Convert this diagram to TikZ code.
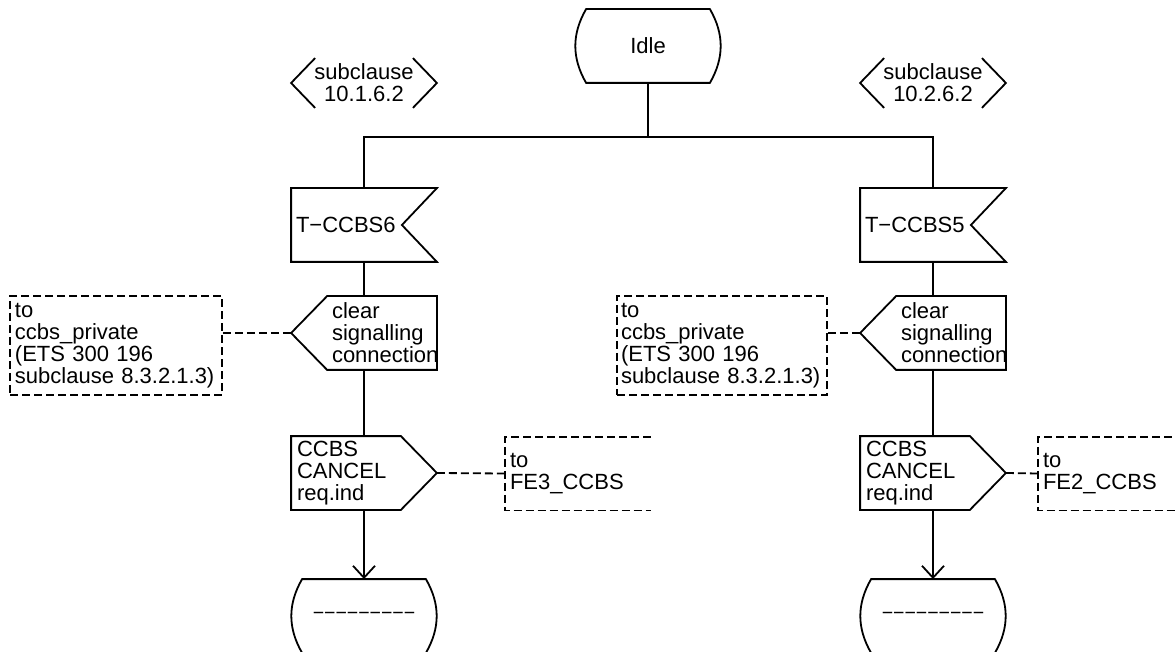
\documentclass[tikz,border=0pt]{standalone}
\usepackage{fontspec}
\setmainfont{Liberation Sans}
\usetikzlibrary{arrows.meta}
\hyphenpenalty=10000
\exhyphenpenalty=10000

\begin{document}
\begin{tikzpicture}[x=1pt, y=-1pt, line width=1.8pt,
		font=\fontsize{22}{22}\selectfont,
		symbol/.style={minimum width=144pt, minimum height=72pt, inner sep=0pt},
		leftsymbol/.style={symbol, text width=#1, align=left},
		dashline/.style={dash pattern=on 8pt off 4pt},
		flow/.style={-{Straight Barb[length=12pt,width=22pt]}}]
		
		\useasboundingbox (0,0) rectangle (1176,652);
		
		% --- start state ---
		\node[symbol] (idle) at (648,46) {Idle};
		\draw ([xshift=11pt]idle.north west) -- ([xshift=-11pt]idle.north east) to[bend left=30] ([xshift=-11pt]idle.south east) -- ([xshift=11pt]idle.south west) to[bend left=30] cycle;
		
		% --- references ---
		\node[symbol, minimum height=48pt, align=center] (refL) at (364,83) {subclause\\10.1.6.2};
		\draw ([xshift=24pt]refL.north west) -- (refL.west) -- ([xshift=24pt]refL.south west);
		\draw ([xshift=-24pt]refL.north east) -- (refL.east) -- ([xshift=-24pt]refL.south east);
		\node[symbol, minimum height=48pt, align=center] (refR) at (933,83) {subclause\\10.2.6.2};
		\draw ([xshift=24pt]refR.north west) -- (refR.west) -- ([xshift=24pt]refR.south west);
		\draw ([xshift=-24pt]refR.north east) -- (refR.east) -- ([xshift=-24pt]refR.south east);
		
		% --- timer inputs ---
		\node[leftsymbol=136pt, inner xsep=4pt] (timL) at (364,225) {T−CCBS6};
		\draw (timL.north west) -- (timL.north east) -- ([xshift=-35pt]timL.east) -- (timL.south east) -- (timL.south west) -- cycle;
		\node[leftsymbol=136pt, inner xsep=4pt] (timR) at (933,225) {T−CCBS5};
		\draw (timR.north west) -- (timR.north east) -- ([xshift=-35pt]timR.east) -- (timR.south east) -- (timR.south west) -- cycle;
		
		% --- branches ---
		\draw (idle.south) -- ++(0,54) coordinate (fork);
		\draw (timL.north) |- (fork) -| (timR.north);
		
		% --- clear signalling connection (left) ---
		\node[leftsymbol=104pt, minimum width=104pt] (sigL) at (384,333) {clear\\signalling\\connection};
		\draw ([xshift=-4pt]sigL.north west) -- (sigL.north east) -- (sigL.south east) -- ([xshift=-4pt]sigL.south west) -- ([xshift=-40pt]sigL.west) coordinate (sigLtip) -- cycle;
		\node[leftsymbol=202pt, minimum width=212pt, minimum height=99pt, inner xsep=5pt, draw, dashline] (privL) at (116,345.5) {to\\ccbs\_private\\(ETS 300 196\\subclause 8.3.2.1.3)};
		\draw[dashline] (privL.east |- sigLtip) -- (sigLtip);
		\draw (timL.south) -- (timL.south |- sigL.north);
		
		% --- clear signalling connection (right) ---
		\node[leftsymbol=104pt, minimum width=104pt] (sigR) at (953,333) {clear\\signalling\\connection};
		\draw ([xshift=-4pt]sigR.north west) -- (sigR.north east) -- (sigR.south east) -- ([xshift=-4pt]sigR.south west) -- ([xshift=-40pt]sigR.west) coordinate (sigRtip) -- cycle;
		\node[leftsymbol=202pt, minimum width=210pt, minimum height=99pt, inner xsep=4pt, draw, dashline] (privR) at (722,345.5) {to\\ccbs\_private\\(ETS 300 196\\subclause 8.3.2.1.3)};
		\draw[dashline] (privR.east |- sigRtip) -- (sigRtip);
		\draw (timR.south) -- (timR.south |- sigR.north);
		
		% --- CCBS CANCEL outputs ---
		\node[leftsymbol=134pt, inner xsep=5pt] (outL) at (364,473) {CCBS\\CANCEL\\req.ind};
		\draw (outL.north west) -- ([xshift=-36pt]outL.north east) -- (outL.east) -- ([xshift=-36pt]outL.south east) -- (outL.south west) -- cycle;
		\draw (timL.south |- sigL.south) -- (outL.north);
		\node[leftsymbol=136pt, inner xsep=4pt] (fe3) at (578,473.5) {to\\FE3\_CCBS};
		\draw[dashline] (fe3.north east) -- (fe3.north west) -- (fe3.south west) -- (fe3.south east);
		\draw[dashline] (outL.east) -- (fe3.west);
		
		\node[leftsymbol=134pt, inner xsep=5pt] (outR) at (933,473) {CCBS\\CANCEL\\req.ind};
		\draw (outR.north west) -- ([xshift=-36pt]outR.north east) -- (outR.east) -- ([xshift=-36pt]outR.south east) -- (outR.south west) -- cycle;
		\draw (timR.south |- sigR.south) -- (outR.north);
		\node[leftsymbol=136pt, inner xsep=4pt] (fe2) at (1111,473.5) {to\\FE2\_CCBS};
		\draw[dashline] (fe2.north east) -- (fe2.north west) -- (fe2.south west) -- (fe2.south east);
		\draw[dashline] (outR.east) -- (fe2.west);
		
		% --- next states ---
		\node[symbol, font=\fontsize{19.5}{19.5}\selectfont] (endL) at (364,616) {−−−−−−−−−};
		\draw ([xshift=11pt]endL.north west) -- ([xshift=-11pt]endL.north east) to[bend left=30] ([xshift=-11pt]endL.south east) -- ([xshift=11pt]endL.south west) to[bend left=30] cycle;
		\draw[flow] (outL.south) -- (endL.north);
		\node[symbol, font=\fontsize{19.5}{19.5}\selectfont] (endR) at (933,616) {−−−−−−−−−};
		\draw ([xshift=11pt]endR.north west) -- ([xshift=-11pt]endR.north east) to[bend left=30] ([xshift=-11pt]endR.south east) -- ([xshift=11pt]endR.south west) to[bend left=30] cycle;
		\draw[flow] (outR.south) -- (endR.north);
		
	\end{tikzpicture}
\end{document}
